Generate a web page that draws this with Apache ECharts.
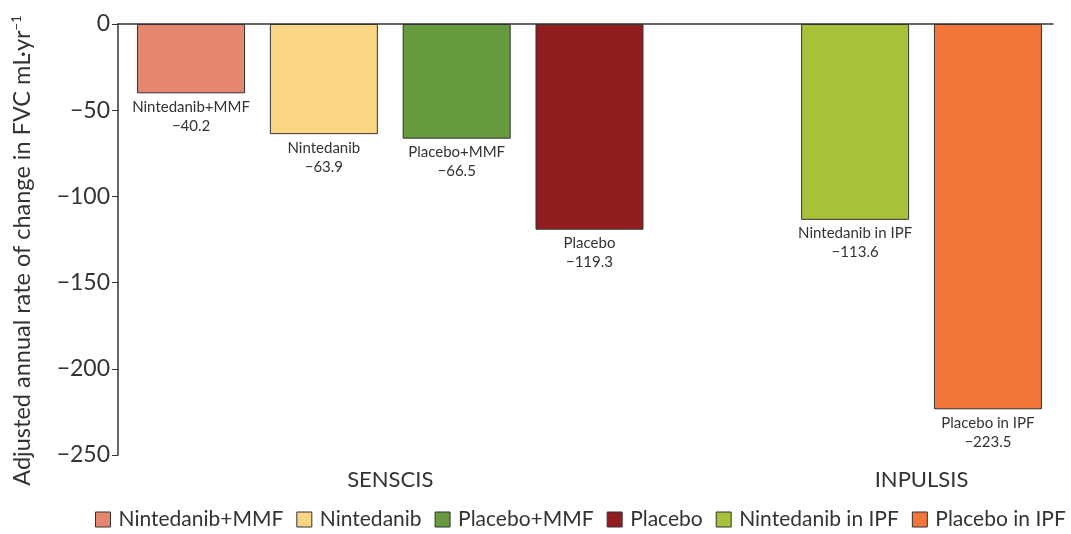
<!DOCTYPE html>
<html>
<head>
<meta charset="utf-8">
<script src="https://cdn.jsdelivr.net/npm/echarts@6/dist/echarts.min.js"></script>
<style>
    html, body { margin: 0; padding: 0; background: #fff; }
    #chart { width: 1071px; height: 534px; }
</style>
</head>
<body>
<div id="chart"></div>
<script>
    // bar names, their slot on the x axis (slot 4 is the gap between trials) and values
    const names = ['Nintedanib+MMF', 'Nintedanib', 'Placebo+MMF', 'Placebo', 'Nintedanib in IPF', 'Placebo in IPF'];
    const slots = [0, 1, 2, 3, 5, 6];
    const values = [-40.2, -63.9, -66.5, -119.3, -113.6, -223.5];
    const colors = ['#E5876E', '#F9D584', '#679A3F', '#921D20', '#A6C13A', '#F2763A'];
    const groups = ['SENSCIS', 'INPULSIS'];
    const groupCenters = [1.5, 5.5];
    const yTicks = [0, -50, -100, -150, -200, -250];

    const font = 'Lato, "Open Sans", sans-serif';
    const minus = v => String(v).replace('-', '\u2212');

    const chart = echarts.init(document.getElementById('chart'));

    const series = names.map((n, i) => ({
        name: n,
        type: 'bar',
        stack: 'all',
        barWidth: 108,
        data: [[slots[i], values[i]]],
        itemStyle: { color: colors[i], borderColor: '#333', borderWidth: 1 },
        label: {
            show: true,
            position: 'bottom',
            distance: 4,
            color: '#333',
            fontFamily: font,
            fontSize: 15,
            lineHeight: 19,
            formatter: p => n + '\n' + minus(p.value[1])
        }
    }));

    chart.setOption({
        animation: false,
        textStyle: { fontFamily: font },
        grid: { left: 118, right: 18, top: 24, bottom: 79, containLabel: false },
        legend: {
            bottom: -1,
            left: 90,
            itemWidth: 15,
            itemHeight: 15,
            itemGap: 13,
            icon: 'rect',
            itemStyle: { borderColor: '#333', borderWidth: 1 },
            textStyle: { color: '#333', fontSize: 21, fontFamily: font, padding: [0, 0, 0, 3] },
            data: names
        },
        xAxis: {
            type: 'value',
            min: -0.55,
            max: 6.49,
            axisLine: { show: true, onZero: true, lineStyle: { color: '#333', width: 1.5 } },
            axisTick: { show: false },
            axisLabel: { show: false },
            splitLine: { show: false }
        },
        yAxis: {
            type: 'value',
            min: yTicks[yTicks.length - 1],
            max: yTicks[0],
            interval: 50,
            name: 'Adjusted annual rate of change in FVC mL\u00b7yr{sup|\u22121}',
            nameLocation: 'middle',
            nameGap: 84,
            nameTextStyle: {
                color: '#333',
                fontSize: 23.5,
                fontFamily: font,
                padding: [0, 22, 0, 0],
                rich: { sup: { fontSize: 13, verticalAlign: 'top', color: '#333', padding: [0, 0, 10, 0] } }
            },
            axisLine: { show: true, onZero: false, lineStyle: { color: '#333', width: 1.5 } },
            axisTick: { show: true, length: 6, lineStyle: { color: '#333' } },
            axisLabel: { color: '#333', fontSize: 23, margin: 8, fontFamily: font, formatter: minus },
            splitLine: { show: false }
        },
        series: series
    });

    // trial names under each group of bars
    chart.setOption({
        graphic: groups.map((g, i) => {
            const pt = chart.convertToPixel({ xAxisIndex: 0, yAxisIndex: 0 }, [groupCenters[i], -250]);
            return {
                type: 'text',
                x: pt[0],
                y: pt[1] + 25,
                style: {
                    text: g,
                    fill: '#333',
                    fontSize: 22,
                    fontFamily: font,
                    align: 'center',
                    verticalAlign: 'middle'
                }
            };
        })
    });
</script>
</body>
</html>
